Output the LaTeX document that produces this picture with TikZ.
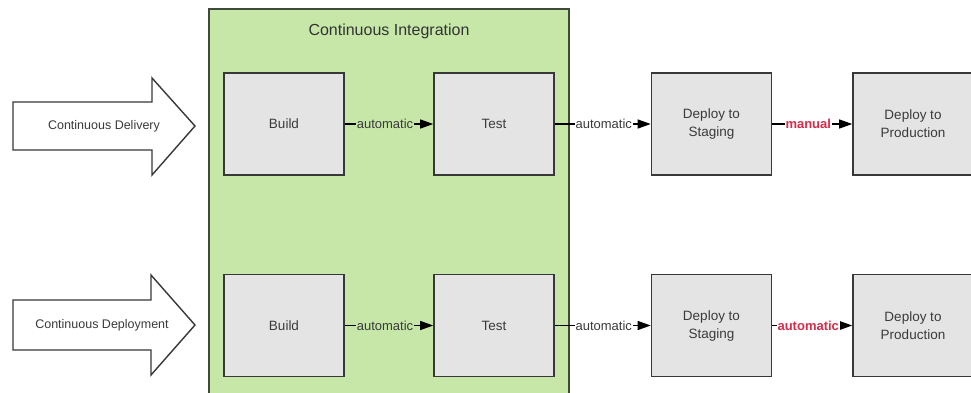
\documentclass[tikz,border=0pt]{standalone}
\usepackage{fontspec}
\setmainfont{Liberation Sans}
\usetikzlibrary{arrows.meta}

\definecolor{cigreen}{HTML}{C6E7A8}
\definecolor{ciborder}{HTML}{3F4A3A}
\definecolor{stepfill}{HTML}{E4E4E4}
\definecolor{stepline}{HTML}{383838}
\definecolor{inktext}{HTML}{3A3A3A}
\definecolor{gatered}{HTML}{D42E4C}

\tikzset{
  stagebox/.style={draw=stepline, line width=1.6pt, fill=stepfill,
    minimum width=120pt, minimum height=102pt, inner sep=0pt,
    font=\fontsize{13.5}{18}\selectfont, text=inktext, align=center},
  flow/.style={draw=black, line width=1.2pt,
    -{Triangle[length=13pt,width=9pt]}},
  flowlabel/.style={font=\fontsize{13}{15}\selectfont, text=inktext,
    inner sep=1pt, anchor=center},
  gatelabel/.style={font=\bfseries\fontsize{13}{15}\selectfont, text=gatered,
    fill=white, inner sep=1pt, anchor=center},
  bigarrow/.style={draw=stepline, line width=1.4pt, fill=white},
  arrowtext/.style={font=\fontsize{12.5}{15}\selectfont, text=inktext}
}

\begin{document}
\begin{tikzpicture}[x=1pt, y=-1pt]
  \useasboundingbox (0,0) rectangle (971,392);
  \clip (0,0) rectangle (971,392);
  \fill[white] (0,0) rectangle (971,392);

  % Continuous Integration area (runs past the lower edge)
  \draw[draw=ciborder, line width=1.5pt, fill=cigreen] (209,9) rectangle (569,410);
  \node[font=\fontsize{16}{19}\selectfont, text=black!80] (cititle) at (389,31) {Continuous Integration};

  % Pipeline steps, upper row
  \node[stagebox] (build1)  at (284,124)   {Build};
  \node[stagebox] (test1)   at (494,124)   {Test};
  \node[stagebox] (stage1)  at (711.5,124) {Deploy to\\Staging};
  \node[stagebox] (prod1)   at (913,124)   {Deploy to\\Production};

  % Pipeline steps, lower row
  \node[stagebox] (build2)  at (284,325.5)   {Build};
  \node[stagebox] (test2)   at (494,325.5)   {Test};
  \node[stagebox] (stage2)  at (711.5,325.5) {Deploy to\\Staging};
  \node[stagebox] (prod2)   at (913,325.5)   {Deploy to\\Production};

  % Connectors, upper row
  \draw[flow] (build1) -- node[flowlabel, fill=cigreen, xshift=-4pt] (l11) {automatic} (test1);
  \draw[flow] (test1)  -- node[flowlabel, fill=white, xshift=1pt] (l12) {automatic} (stage1);
  \draw[flow] (stage1) -- node[gatelabel, xshift=-4pt] (l13) {manual} (prod1);

  % Connectors, lower row
  \draw[flow] (build2) -- node[flowlabel, fill=cigreen, xshift=-4pt] (l21) {automatic} (test2);
  \draw[flow] (test2)  -- node[flowlabel, fill=white, xshift=1pt] (l22) {automatic} (stage2);
  \draw[flow] (stage2) -- node[gatelabel, xshift=-4pt] (l23) {automatic} (prod2);

  % Block arrows on the left
  \draw[bigarrow] (13,102) -- (152,102) -- (152,78) -- (195,126) -- (152,175)
    -- (152,150) -- (13,150) -- cycle;
  \node[arrowtext] (cdel) at (104,126) {Continuous Delivery};

  \draw[bigarrow] (13,300) -- (151,300) -- (151,275) -- (195,325) -- (151,375)
    -- (151,350) -- (13,350) -- cycle;
  \node[arrowtext] (cdep) at (102,325) {Continuous Deployment};
\end{tikzpicture}
\end{document}
